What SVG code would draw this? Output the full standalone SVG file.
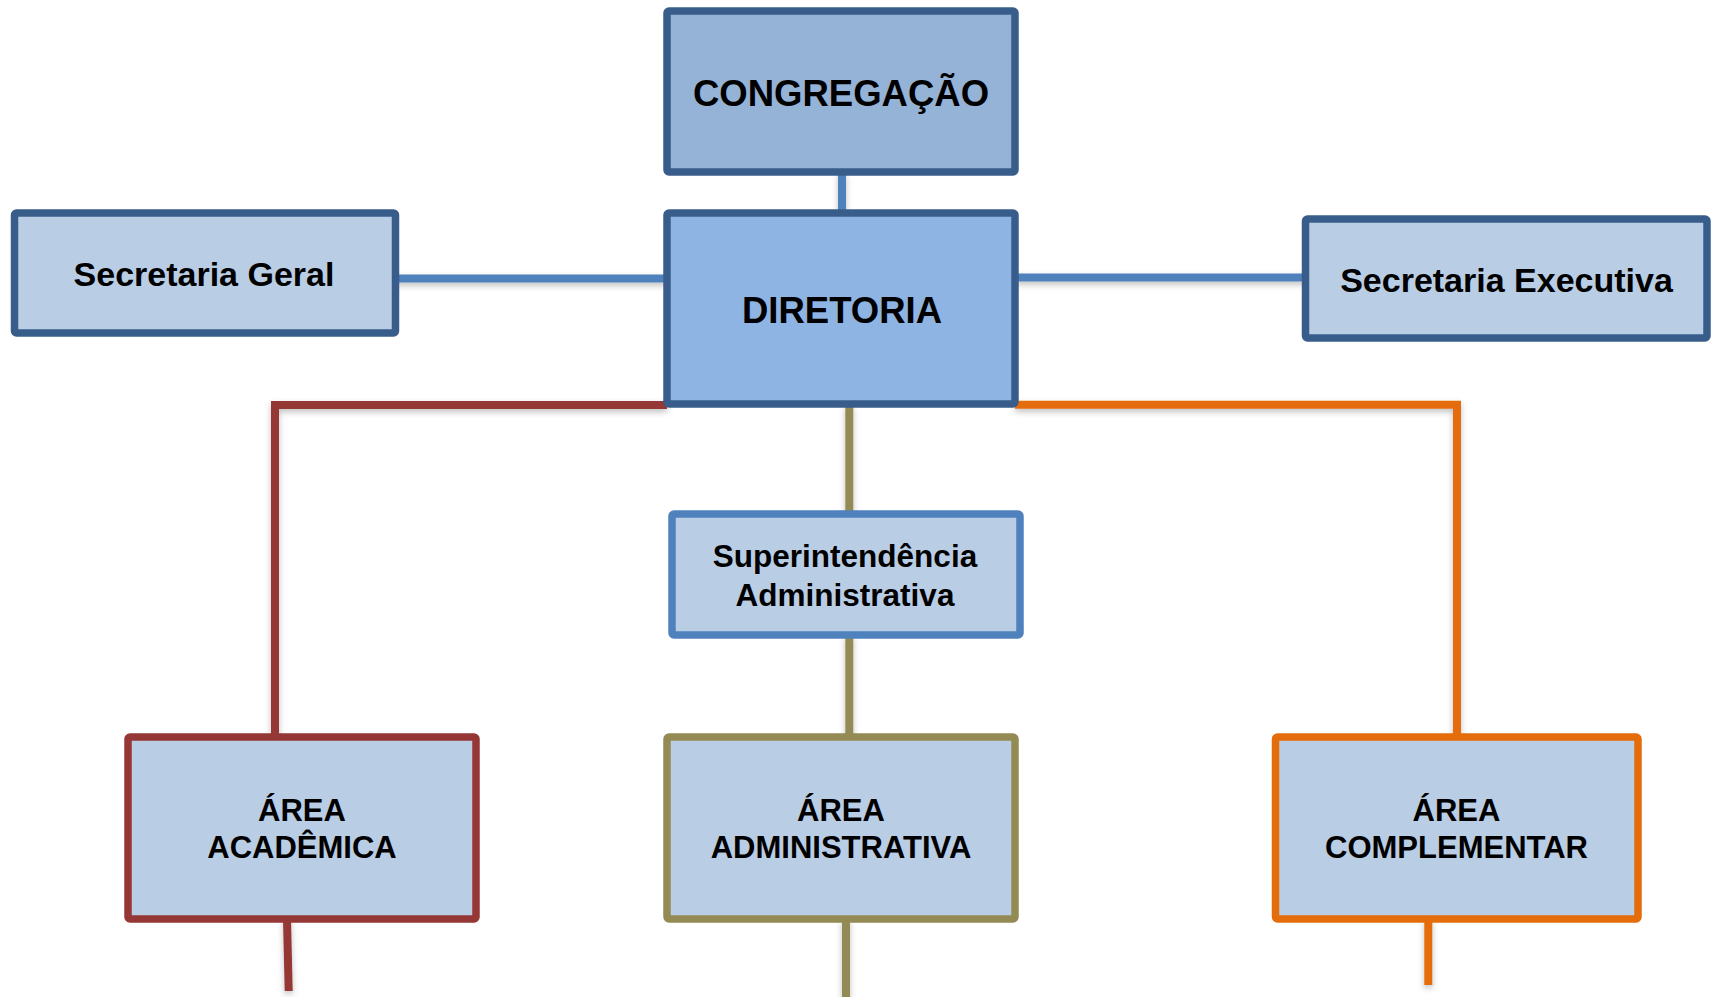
<svg xmlns="http://www.w3.org/2000/svg" width="1714" height="997" viewBox="0 0 1714 997">
<defs>
<filter id="sh" x="-20%" y="-20%" width="140%" height="140%">
<feDropShadow dx="0" dy="3" stdDeviation="3" flood-color="#000" flood-opacity="0.25"/>
</filter>
<style>
.box{stroke-width:7.5;stroke-linejoin:round}
.dk{stroke:#385D8A}
.lt{fill:#B9CDE5}
.t{font-family:"Liberation Sans",Arial,sans-serif;font-weight:bold;fill:#000;text-anchor:middle}
.c{fill:none;stroke-width:8;stroke-linecap:butt;stroke-linejoin:miter}
.blue{stroke:#4F81BD}
.red{stroke:#953735}
.olv{stroke:#948A54}
.org{stroke:#E46C0A}
</style>
</defs>
<rect width="1714" height="997" fill="#fff"/>
<g id="connectors" filter="url(#sh)">
<line class="c blue" x1="842" y1="172" x2="842" y2="213"/>
<line class="c blue" x1="392" y1="278.5" x2="667" y2="278.5"/>
<line class="c blue" x1="1015" y1="277.5" x2="1305" y2="277.5"/>
<polyline class="c red" points="667,405 275,405 275,737"/>
<line class="c olv" x1="849.3" y1="405" x2="849.3" y2="514"/>
<line class="c olv" x1="849.3" y1="635" x2="849.3" y2="737"/>
<polyline class="c org" points="1015,404.7 1457,404.7 1457,737"/>
<line class="c red" x1="287" y1="919" x2="288.7" y2="991"/>
<line class="c olv" x1="846" y1="919" x2="846" y2="997"/>
<line class="c org" x1="1428.3" y1="919" x2="1428.3" y2="985"/>
</g>
<g id="congregacao">
<rect class="box dk" x="667" y="11" width="348" height="161" rx="2" fill="#95B3D7"/>
<text class="t" x="841" y="106" font-size="36.5">CONGREGAÇÃO</text>
</g>
<g id="diretoria">
<rect class="box dk" x="667" y="213" width="348" height="191" rx="2" fill="#8EB4E3"/>
<text class="t" x="842" y="322.7" font-size="36.5">DIRETORIA</text>
</g>
<g id="secretaria-geral">
<rect class="box dk lt" x="14.5" y="213" width="381" height="120" rx="2"/>
<text class="t" x="204" y="286" font-size="34">Secretaria Geral</text>
</g>
<g id="secretaria-executiva">
<rect class="box dk lt" x="1305.5" y="219" width="401.5" height="119" rx="2"/>
<text class="t" x="1506.5" y="291.7" font-size="34">Secretaria Executiva</text>
</g>
<g id="superintendencia">
<rect class="box lt" x="672" y="514" width="348" height="121" rx="2" stroke="#4F81BD" stroke-width="7"/>
<text class="t" x="845" y="566.7" font-size="31.5">Superintendência</text>
<text class="t" x="845" y="606" font-size="31.5">Administrativa</text>
</g>
<g id="area-academica">
<rect class="box lt" x="128" y="737" width="348" height="182" rx="2" stroke="#953735"/>
<text class="t" x="302" y="820.7" font-size="31">ÁREA</text>
<text class="t" x="302" y="858.3" font-size="31">ACADÊMICA</text>
</g>
<g id="area-administrativa">
<rect class="box lt" x="667" y="737" width="348" height="182" rx="2" stroke="#948A54"/>
<text class="t" x="841" y="820.7" font-size="31">ÁREA</text>
<text class="t" x="841" y="858.3" font-size="31">ADMINISTRATIVA</text>
</g>
<g id="area-complementar">
<rect class="box lt" x="1275.5" y="737" width="362.5" height="182" rx="2" stroke="#E46C0A"/>
<text class="t" x="1456.5" y="820.7" font-size="31">ÁREA</text>
<text class="t" x="1456.5" y="858.3" font-size="31">COMPLEMENTAR</text>
</g>
</svg>
